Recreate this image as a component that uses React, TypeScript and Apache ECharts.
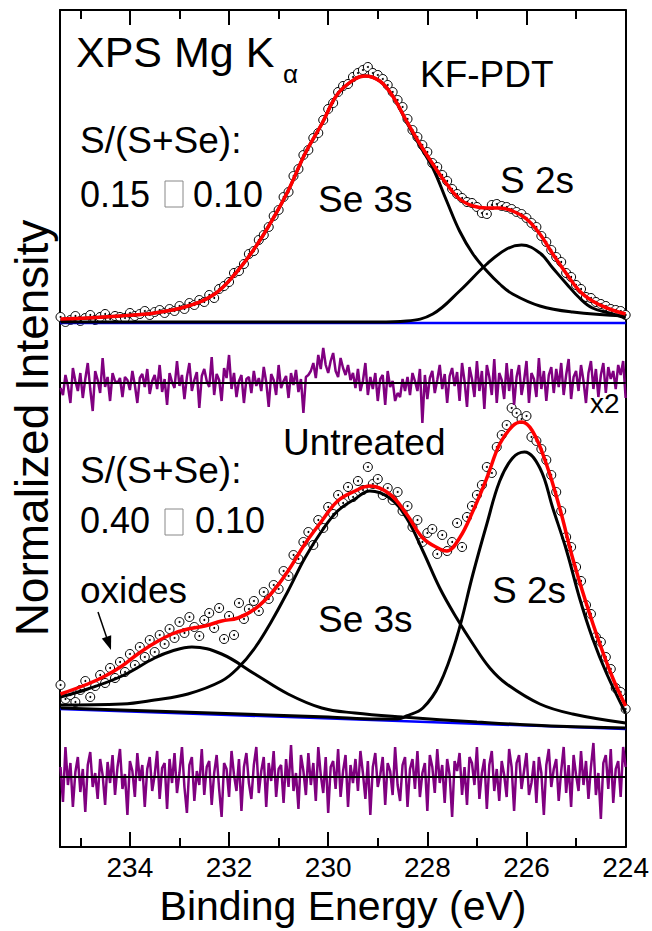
import React, { useEffect, useRef } from "react";
import * as echarts from "echarts";

const FONT = '"Liberation Sans", Arial, Helvetica, sans-serif';

// Energy grid (eV) of the measured points and residuals
const E_START = 235.4;
const DATA_STEP = 0.1;
const RESID_STEP = 0.05;
const X_MIN = 224;
const X_MAX = 235.41;
const Y_MAX = 8.37;

// x-axis tick labels
const xTicks = [224, 226, 228, 230, 232, 234];

// KF-PDT spectrum: measured intensity (normalized, offset), 235.4 -> 224.0 eV
const topData = [
  5.30, 5.25, 5.27, 5.31, 5.26, 5.29, 5.32, 5.27, 5.30, 5.33,
  5.28, 5.31, 5.30, 5.29, 5.34, 5.31, 5.33, 5.36, 5.32, 5.35,
  5.37, 5.34, 5.38, 5.36, 5.41, 5.38, 5.44, 5.42, 5.47, 5.45,
  5.52, 5.49, 5.58, 5.61, 5.65, 5.74, 5.76, 5.83, 5.93, 5.96,
  6.07, 6.12, 6.20, 6.31, 6.37, 6.50, 6.55, 6.71, 6.78, 6.92,
  6.97, 7.09, 7.14, 7.27, 7.38, 7.44, 7.55, 7.61, 7.63, 7.70,
  7.74, 7.77, 7.80, 7.74, 7.72, 7.68, 7.62, 7.55, 7.47, 7.40,
  7.28, 7.17, 7.10, 7.02, 6.95, 6.84, 6.80, 6.72, 6.66, 6.58,
  6.53, 6.49, 6.45, 6.44, 6.40, 6.34, 6.33, 6.42, 6.43, 6.41,
  6.40, 6.38, 6.35, 6.33, 6.29, 6.24, 6.20, 6.11, 6.05, 5.97,
  5.90, 5.85, 5.74, 5.70, 5.62, 5.58, 5.50, 5.49, 5.45, 5.43,
  5.41, 5.38, 5.37, 5.36, 5.32,
];

// Untreated spectrum: measured intensity, 235.4 -> 224.0 eV
const botData = [
  1.62, 1.48, 1.52, 1.45, 1.57, 1.66, 1.50, 1.61, 1.72, 1.64,
  1.79, 1.69, 1.85, 1.75, 1.93, 1.82, 2.00, 1.90, 2.07, 1.95,
  2.12, 2.03, 2.18, 2.09, 2.25, 2.14, 2.30, 2.20, 2.11, 2.27,
  2.34, 2.19, 2.39, 2.08, 2.31, 2.12, 2.44, 2.28, 2.38, 2.46,
  2.36, 2.55, 2.48, 2.62, 2.58, 2.76, 2.71, 2.92, 2.88, 3.05,
  3.15, 3.02, 3.27, 3.19, 3.40, 3.33, 3.52, 3.44, 3.60, 3.50,
  3.66, 3.57, 3.80, 3.63, 3.68, 3.52, 3.59, 3.47, 3.55, 3.36,
  3.41, 3.20, 3.27, 3.05, 3.14, 3.18, 2.93, 3.12, 2.96, 3.05,
  3.24, 3.00, 3.30, 3.41, 3.52, 3.62, 3.80, 3.74, 4.00, 4.12,
  4.22, 4.39, 4.34, 4.28, 4.31, 4.10, 4.06, 3.98, 3.87, 3.72,
  3.55, 3.36, 3.10, 3.00, 2.80, 2.66, 2.42, 2.33, 2.10, 2.05,
  1.90, 1.78, 1.59, 1.55, 1.38,
];

// Fit envelopes and components: [eV, intensity]
const topFit = [
  [235.4, 5.28], [234.85, 5.29], [234.2, 5.31], [233.5, 5.34], [232.83, 5.41],
  [232.29, 5.53], [231.88, 5.73], [231.48, 5.99], [231.14, 6.26], [230.81, 6.56],
  [230.47, 6.93], [230.13, 7.23], [229.81, 7.53], [229.46, 7.68], [229.26, 7.71],
  [228.96, 7.66], [228.7, 7.51], [228.42, 7.26], [228.15, 7.03], [227.89, 6.83],
  [227.61, 6.63], [227.35, 6.48], [227.08, 6.41], [226.8, 6.39], [226.54, 6.39],
  [226.28, 6.36], [226.0, 6.28], [225.73, 6.13], [225.47, 5.93], [225.19, 5.73],
  [224.93, 5.56], [224.67, 5.46], [224.38, 5.39], [224.0, 5.33],
];
const topSe3s = [
  [235.4, 5.27], [234.2, 5.31], [233.5, 5.34], [232.83, 5.41], [232.29, 5.53],
  [231.88, 5.73], [231.48, 5.99], [231.14, 6.26], [230.81, 6.56], [230.47, 6.93],
  [230.13, 7.23], [229.81, 7.53], [229.46, 7.68], [229.26, 7.71], [228.96, 7.66],
  [228.7, 7.51], [228.42, 7.25], [228.15, 7.01], [227.89, 6.79], [227.61, 6.46],
  [227.35, 6.16], [227.08, 5.93], [226.8, 5.76], [226.54, 5.63], [226.28, 5.53],
  [225.73, 5.41], [225.07, 5.35], [224.0, 5.31],
];
const topS2s = [
  [235.4, 5.25], [229.0, 5.25], [228.42, 5.26], [227.89, 5.33], [227.35, 5.56],
  [226.8, 5.83], [226.4, 5.98], [226.1, 6.02], [225.73, 5.94], [225.47, 5.79],
  [225.19, 5.63], [224.93, 5.49], [224.67, 5.39], [224.26, 5.33], [224.0, 5.29],
];
const topBaseline = [[235.41, 5.24], [224.0, 5.24]];

const botFit = [
  [235.4, 1.53], [234.85, 1.63], [234.5, 1.71], [234.16, 1.81], [233.84, 1.93],
  [233.5, 2.04], [233.15, 2.13], [232.83, 2.18], [232.49, 2.21], [232.15, 2.26],
  [231.82, 2.29], [231.48, 2.38], [231.14, 2.54], [230.81, 2.76], [230.47, 3.03],
  [230.13, 3.26], [229.81, 3.46], [229.46, 3.56], [229.16, 3.61], [228.76, 3.53],
  [228.42, 3.33], [228.09, 3.09], [227.75, 2.98], [227.61, 2.96], [227.35, 3.09],
  [227.08, 3.36], [226.8, 3.69], [226.54, 4.03], [226.28, 4.21], [226.1, 4.25],
  [225.88, 4.16], [225.6, 3.83], [225.33, 3.39], [225.07, 2.89], [224.79, 2.43],
  [224.52, 2.03], [224.26, 1.69], [224.0, 1.41],
];
const botSe3s = [
  [235.4, 1.42], [234.16, 1.43], [233.5, 1.47], [232.83, 1.53], [232.15, 1.66],
  [231.82, 1.79], [231.48, 1.99], [231.14, 2.26], [230.81, 2.56], [230.47, 2.89],
  [230.13, 3.16], [229.81, 3.36], [229.46, 3.48], [229.16, 3.56], [228.76, 3.49],
  [228.42, 3.29], [228.09, 2.96], [227.75, 2.59], [227.41, 2.29], [227.08, 2.03],
  [226.74, 1.79], [226.4, 1.63], [225.73, 1.43], [225.07, 1.33], [224.0, 1.24],
];
const botS2s = [
  [235.4, 1.39], [230.0, 1.30], [229.0, 1.28], [228.6, 1.28], [228.42, 1.31],
  [228.09, 1.39], [227.75, 1.63], [227.41, 2.09], [227.08, 2.73], [226.8, 3.23],
  [226.54, 3.66], [226.28, 3.89], [226.04, 3.95], [225.73, 3.79], [225.47, 3.39],
  [225.19, 2.96], [224.93, 2.49], [224.67, 2.09], [224.38, 1.73], [224.0, 1.34],
];
const botOxides = [
  [235.4, 1.50], [234.85, 1.58], [234.16, 1.71], [233.5, 1.89], [233.15, 1.96],
  [232.75, 2.00], [232.15, 1.93], [231.48, 1.73], [230.81, 1.53], [230.13, 1.39],
  [229.46, 1.34], [228.5, 1.30], [227.0, 1.25], [225.5, 1.21], [224.0, 1.19],
];
const botBaseline = [[235.41, 1.38], [224.0, 1.18]];

// Residuals (in 0.01 intensity units), 235.4 -> 224.0 eV in 0.05 eV steps
const topResidZero = 4.64;
const topResid = [
  -5, -12, 8, -3, -20, 15, 2, -8, 10, -15, 4, 20, -6, -28, 12, 3, -10, 25, -4, 6,
  -18, 10, 2, 0, 5, -14, 6, 3, -7, 12, -2, -20, 5, 9, -4, 14, -11, 2, 8, -6,
  18, -9, 4, -22, 10, 1, -5, 22, -3, 8, -16, 6, 20, -8, 3, 11, -25, 7, 14, 2,
  -4, 26, -12, 9, 3, -18, 15, 5, 28, -6, 10, -14, 2, 8, -20, 4, 6, -10, 12, -3,
  5, -8, 16, 1, -24, 9, 3, -12, 18, -5, 2, 7, -15, 10, -2, 13, -9, 4, -30, 6,
  8, 12, 20, 5, 28, 14, 35, 18, 10, 22, 30, 12, 6, 25, 15, 8, 18, 3, 10, -5,
  14, -8, 2, 20, -12, 6, -6, 10, -18, 4, 8, -22, 12, -4, 2, -18, -10, -14, 4, -8,
  6, -12, 10, 2, -8, 14, -40, 8, -16, 5, 12, -10, 3, 18, -6, 9, -20, 7, 15, -3,
  11, -18, 20, 2, -24, 16, 4, -14, 22, -8, 12, -26, 18, 6, -12, 24, -20, 10, 3, -16,
  20, -8, 14, -22, 6, 18, -12, 2, 22, -20, 10, 4, -14, 25, -6, 12, -18, 8, 16, -10,
  14, -4, 20, -12, 8, 24, -16, 6, 12, -8, 18, 2, -20, 10, 22, -6, 14, -14, 8, 20,
  -10, 16, 4, 12, -6, 18, 8, 22, -15,
];
const botResidZero = 0.70;
const botResid = [
  10, -25, 30, -8, 14, -30, 5, 20, -15, 8, -35, 12, 25, -10, 4, -22, 18, 2, -28, 15,
  -6, 22, -18, 10, 28, -12, 3, -38, 16, 6, -20, 24, -4, 12, -30, 8, 20, -14, 2, 26,
  -22, 9, 14, -32, 18, -6, 24, -16, 4, 30, -10, -36, 12, 20, -24, 6, -8, 28, -18, 10,
  16, -28, 4, 22, -12, -40, 14, 8, -20, 26, 2, -14, 18, -34, 10, 24, -6, -22, 12, 30,
  -16, 6, 20, -30, 14, -4, 26, -20, 8, 12, -26, 18, -10, 32, -14, 4, -32, 22, 6, -18,
  24, -8, 14, -24, 30, 2, -16, 20, -36, 10, 16, -12, 28, -20, 6, 22, -30, 12, -6, 18,
  -14, 26, 4, -22, 16, -38, 10, 24, -10, 2, 20, -28, 14, 6, -18, 30, -8, -24, 12, 20,
  -30, 8, 18, -12, 26, -20, 4, 14, -34, 22, 10, -16, 28, -6, 12, -26, 18, 2, -40, 16,
  6, 24, -18, 10, -28, 20, 14, -8, 30, -22, 4, 18, -32, 12, 26, -14, 8, -24, 16, 2,
  -20, 28, 10, -34, 14, 22, -12, 6, 24, -18, -6, 16, -26, 20, 4, -38, 12, 28, -10, 8,
  18, -24, 6, 30, -16, 12, -30, 22, 2, -14, 26, -8, 16, -22, 10, 34, -18, 4, -42, 14,
  22, -12, 28, -26, 8, 16, -20, 30, 10,
];

const toPoints = (vals: number[], step: number) =>
  vals.map((v, i) => [+(E_START - i * step).toFixed(3), v]);
const toResid = (vals: number[], zero: number) =>
  vals.map((v, i) => [+(E_START - i * RESID_STEP).toFixed(3), zero + v / 100]);

function lineSeries(data: number[][], color: string, width: number, smooth: any = 0.4) {
  return {
    type: "line",
    data,
    symbol: "none",
    smooth,
    lineStyle: { color, width },
    silent: true,
  };
}

function scatterSeries(data: number[][], size: number, fill: string, border: number) {
  return {
    type: "scatter",
    data,
    symbol: "circle",
    symbolSize: size,
    itemStyle: { color: fill, borderColor: "#000", borderWidth: border, opacity: 1 },
    silent: true,
  };
}

function txt(x: number, y: number, text: string, size: number, extra: any = {}) {
  return {
    type: "text",
    x,
    y,
    silent: true,
    style: {
      text,
      font: `${size}px ${FONT}`,
      fill: "#000",
      textVerticalAlign: "middle",
      ...extra,
    },
  };
}

export default function App() {
  const ref = useRef<HTMLDivElement>(null);

  useEffect(() => {
    if (!ref.current) return;
    const chart = echarts.init(ref.current, null, { renderer: "svg" });

    const baseX = {
      type: "value",
      min: X_MIN,
      max: X_MAX,
      inverse: true,
      splitLine: { show: false },
    };

    const topPts = toPoints(topData, DATA_STEP);
    const botPts = toPoints(botData, DATA_STEP);

    const yTitle: any = txt(32, 428, "Normalized Intensity", 46, { textAlign: "center" });
    yTitle.rotation = Math.PI / 2;

    const option: any = {
      animation: false,
      backgroundColor: "#fff",
      grid: { left: 60, right: 26, top: 10, bottom: 84, containLabel: false },
      xAxis: [
        {
          ...baseX,
          position: "bottom",
          interval: 2,
          axisLine: { show: true, lineStyle: { color: "#000", width: 2 } },
          axisTick: { show: true, inside: true, length: 15, lineStyle: { color: "#000", width: 2 } },
          axisLabel: {
            show: true,
            color: "#000",
            fontSize: 28,
            fontFamily: FONT,
            margin: 6,
            showMaxLabel: false,
            formatter: (v: number) => (xTicks.includes(v) ? String(v) : ""),
          },
        },
        {
          ...baseX,
          position: "bottom",
          interval: 1,
          axisLine: { show: false },
          axisTick: { show: true, inside: true, length: 9, lineStyle: { color: "#000", width: 2 } },
          axisLabel: { show: false },
        },
        {
          ...baseX,
          position: "top",
          interval: 2,
          axisLine: { show: true, lineStyle: { color: "#000", width: 2 } },
          axisTick: { show: true, inside: true, length: 15, lineStyle: { color: "#000", width: 2 } },
          axisLabel: { show: false },
        },
        {
          ...baseX,
          position: "top",
          interval: 1,
          axisLine: { show: false },
          axisTick: { show: true, inside: true, length: 9, lineStyle: { color: "#000", width: 2 } },
          axisLabel: { show: false },
        },
      ],
      yAxis: [
        {
          type: "value",
          min: 0,
          max: Y_MAX,
          position: "left",
          axisLine: { show: true, lineStyle: { color: "#000", width: 2 } },
          axisTick: { show: false },
          axisLabel: { show: false },
          splitLine: { show: false },
        },
        {
          type: "value",
          min: 0,
          max: Y_MAX,
          position: "right",
          axisLine: { show: true, lineStyle: { color: "#000", width: 2 } },
          axisTick: { show: false },
          axisLabel: { show: false },
          splitLine: { show: false },
        },
      ],
      series: [
        lineSeries(topBaseline, "#0000ff", 2.5, false),
        lineSeries(botBaseline, "#0000ff", 2.5, false),
        lineSeries(toResid(topResid, topResidZero), "#800080", 2.5, false),
        lineSeries(toResid(botResid, botResidZero), "#800080", 2.5, false),
        lineSeries([[X_MAX, topResidZero], [X_MIN, topResidZero]], "#000", 2, false),
        lineSeries([[X_MAX, botResidZero], [X_MIN, botResidZero]], "#000", 2, false),
        lineSeries(botOxides, "#000", 3),
        lineSeries(topSe3s, "#000", 3),
        lineSeries(topS2s, "#000", 3),
        lineSeries(botSe3s, "#000", 3),
        lineSeries(botS2s, "#000", 3),
        scatterSeries(topPts, 9, "#fff", 1),
        scatterSeries(botPts, 9, "#fff", 1),
        scatterSeries(topPts, 2, "#000", 0),
        scatterSeries(botPts, 2, "#000", 0),
        lineSeries(topFit, "#ff0000", 3.5),
        lineSeries(botFit, "#ff0000", 3.5),
      ],
      graphic: [
        txt(76, 52, "XPS Mg K", 43),
        txt(283, 74, "α", 26),
        txt(420, 74, "KF-PDT", 37),
        txt(80, 140, "S/(S+Se):", 37),
        txt(80, 194, "0.15", 36),
        { type: "rect", silent: true, shape: { x: 165, y: 181, width: 18, height: 26 }, style: { fill: "#fff", stroke: "#888", lineWidth: 1 } },
        txt(193, 194, "0.10", 36),
        txt(318, 199, "Se 3s", 37),
        txt(500, 180, "S 2s", 37),
        txt(590, 403, "x2", 28),
        txt(283, 442, "Untreated", 37),
        txt(80, 470, "S/(S+Se):", 37),
        txt(80, 520, "0.40", 36),
        { type: "rect", silent: true, shape: { x: 165, y: 509, width: 18, height: 26 }, style: { fill: "#fff", stroke: "#888", lineWidth: 1 } },
        txt(195, 520, "0.10", 36),
        txt(80, 590, "oxides", 37),
        txt(318, 619, "Se 3s", 37),
        txt(492, 590, "S 2s", 37),
        { type: "line", silent: true, shape: { x1: 98, y1: 612, x2: 106.5, y2: 637 }, style: { stroke: "#000", lineWidth: 1.5 } },
        { type: "polygon", silent: true, shape: { points: [[111, 650], [111.2, 635.2], [101.8, 638.4]] }, style: { fill: "#000" } },
        yTitle,
        txt(343, 906, "Binding Energy (eV)", 41, { textAlign: "center" }),
      ],
    };

    chart.setOption(option);
    return () => chart.dispose();
  }, []);

  return (
    <div
      ref={ref}
      style={{ position: "fixed", left: 0, top: 0, width: 652, height: 931, background: "#fff" }}
    />
  );
}
